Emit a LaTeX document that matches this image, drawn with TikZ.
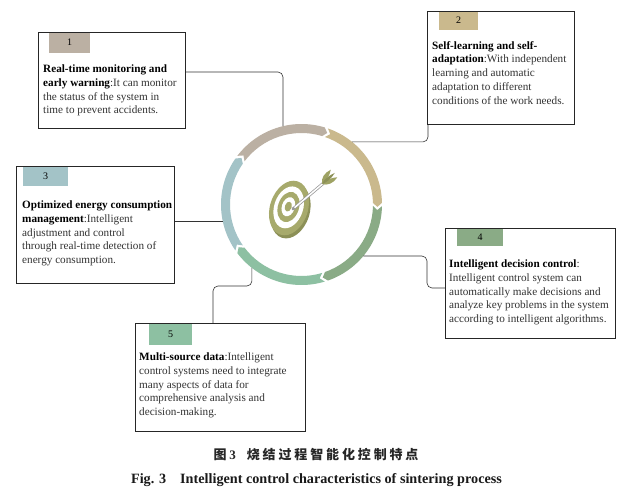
\documentclass[tikz,border=0pt]{standalone}
\usepackage{fontspec}
\setmainfont{Liberation Serif}
\newfontfamily\cjk[LetterSpace=22]{Noto Sans CJK SC}
\usetikzlibrary{calc}
\definecolor{tabA}{HTML}{BBB0A3}
\definecolor{tabB}{HTML}{CAB98D}
\definecolor{tabC}{HTML}{A3C3C7}
\definecolor{tabD}{HTML}{8AAB86}
\definecolor{tabE}{HTML}{8DC0A2}
\definecolor{disc}{HTML}{A7AA6C}
\definecolor{discside}{HTML}{8C9057}
\definecolor{feather}{HTML}{9EA263}
\def\ringseg[#1](#2:#3){\fill[#1,shift={(ring)}] (#3-1.2:80.5) arc[start angle=#3-1.2, end angle=#2+1.2, radius=80.5] -- (#2-1.8:76) -- (#2+1.2:71.5) arc[start angle=#2+1.2, end angle=#3-1.2, radius=71.5] -- (#3-4.2:76) -- cycle;}
\tikzset{
  box/.style={draw=black!85, line width=0.7pt, anchor=north west, inner sep=0pt},
  tab/.style={anchor=north west, inner sep=0pt, font=\fontsize{10}{12}\selectfont},
  txt/.style={anchor=north west, inner sep=0pt, align=left, text=black!80, font=\fontsize{11.2}{13.8}\selectfont},
  conn/.style={draw=black!80, line width=0.6pt, rounded corners=5pt},
}

\begin{document}
\begin{tikzpicture}[x=1pt, y=1pt]
			%%%%% START %%%%%
			\fill[white] (0,0) rectangle (622,-492);
			\useasboundingbox (0,0) rectangle (622,-492);
			
			% ring
			\coordinate (ring) at (301.5,-204.5);
			\ringseg[tabB](0:72)
			\ringseg[tabA](72:144)
			\ringseg[tabC](144:216)
			\ringseg[tabE](216:288)
			\ringseg[tabD](-72:0)
			
			% target
			\begin{scope}[shift={(289,-208)}, rotate=-18]
				\fill[discside] (2.5,-2.5) ellipse (19 and 28);
				\fill[disc] (0,0) ellipse (19 and 28);
				\fill[white] (-0.5,0.5) ellipse (14.5 and 21.5);
				\fill[disc] (-0.8,0.8) ellipse (10.5 and 15.5);
				\fill[white] (-1,1) ellipse (6.5 and 9.8);
				\fill[disc] (-1.1,1.1) ellipse (3.4 and 5.1);
			\end{scope}
			\draw[line width=3pt, black!40, line cap=round] (293,-209) -- (326,-181);
			\draw[line width=1.5pt, white] (294.5,-207.7) -- (325.5,-181.4);
			\begin{scope}[shift={(322,-184)}, rotate=41]
				\fill[feather] (0,0) .. controls (3,5) and (9,7) .. (16,5) .. controls (10,1) .. (0,0);
				\fill[feather] (0,0) .. controls (3,-5) and (9,-7) .. (16,-5) .. controls (10,-1) .. (0,0);
				\fill[discside] (0,0) .. controls (4,2) and (11,2) .. (17,0) .. controls (11,-2) and (4,-2) .. (0,0);
			\end{scope}
			
			% boxes
			\node[box, minimum width=147pt, minimum height=96pt] (b1) at (38,-32) {};
			\node[box, minimum width=147pt, minimum height=113pt] (b2) at (427,-11) {};
			\node[box, minimum width=158pt, minimum height=117pt] (b3) at (16,-166) {};
			\node[box, minimum width=170pt, minimum height=110pt] (b4) at (445,-228) {};
			\node[box, minimum width=170pt, minimum height=108pt] (b5) at (135,-323) {};
			
			\node[tab, fill=tabA, minimum width=41pt, minimum height=20pt] (t1) at ($(b1.north west)+(11,-0.4)$) {1};
			\node[tab, fill=tabB, minimum width=39pt, minimum height=18pt] (t2) at ($(b2.north west)+(12,-0.4)$) {2};
			\node[tab, fill=tabC, minimum width=45pt, minimum height=19pt] (t3) at ($(b3.north west)+(7,-0.4)$) {3};
			\node[tab, fill=tabD, minimum width=46pt, minimum height=17pt] (t4) at ($(b4.north west)+(12,-0.4)$) {4};
			\node[tab, fill=tabE, minimum width=43pt, minimum height=21pt] (t5) at ($(b5.north west)+(14,-0.4)$) {5};
			
			\node[txt] (x1) at ($(b1.north west)+(5,-32.5)$) {\textcolor{black}{\textbf{Real-time monitoring and}}\\\textcolor{black}{\textbf{early warning}}:It can monitor\\the status of the system in\\time to prevent accidents.};
			\node[txt] (x2) at ($(b2.north west)+(5,-30)$) {\textcolor{black}{\textbf{Self-learning and self-}}\\\textcolor{black}{\textbf{adaptation}}:With independent\\learning and automatic\\adaptation to different\\conditions of the work needs.};
			\node[txt] (x3) at ($(b3.north west)+(6,-34.5)$) {\textcolor{black}{\textbf{Optimized energy consumption}}\\\textcolor{black}{\textbf{management}}:Intelligent\\adjustment and control\\through real-time detection of\\energy consumption.};
			\node[txt] (x4) at ($(b4.north west)+(4,-31.5)$) {\textcolor{black}{\textbf{Intelligent decision control}}:\\Intelligent control system can\\automatically make decisions and\\analyze key problems in the system\\according to intelligent algorithms.};
			\node[txt] (x5) at ($(b5.north west)+(4,-29.5)$) {\textcolor{black}{\textbf{Multi-source data}}:Intelligent\\control systems need to integrate\\many aspects of data for\\comprehensive analysis and\\decision-making.};
			
			% connectors
			\coordinate (r1) at ($(ring)+(103.3:80.5)$);
			\coordinate (r2) at ($(ring)+(51:80.5)$);
			\coordinate (r3) at ($(ring)+(191.8:80.5)$);
			\coordinate (r4) at ($(ring)+(-39.8:80.5)$);
			\coordinate (r5) at ($(ring)+(232:80.5)$);
			\draw[conn] ($(b1.north east)+(0,-40)$) -| (r1);
			\draw[conn] ($(b2.south west)+(1,0)$) |- (r2);
			\draw[conn] (b3.east |- r3) -- (r3);
			\draw[conn] (r4) -| ($(b4.north west)+(-18,-60)$) -- ($(b4.north west)+(0,-60)$);
			\draw[conn] (r5) |- ($(b5.north west)+(78,37)$) -- ($(b5.north west)+(78,0)$);
			
			% caption
			\node[font=\fontsize{13}{15}\selectfont, text=black!85] (cap1) at (316,-455) {{\cjk\bfseries 图}\textbf{3}\hspace{11pt}{\cjk\bfseries 烧结过程智能化控制特点}};
			\node[font=\fontsize{14.2}{16}\selectfont\bfseries, text=black!90] (cap2) at (316.5,-480) {Fig. 3\hspace{14pt}Intelligent control characteristics of sintering process};
			
			%%%%% END %%%%%
\end{tikzpicture}
\end{document}
